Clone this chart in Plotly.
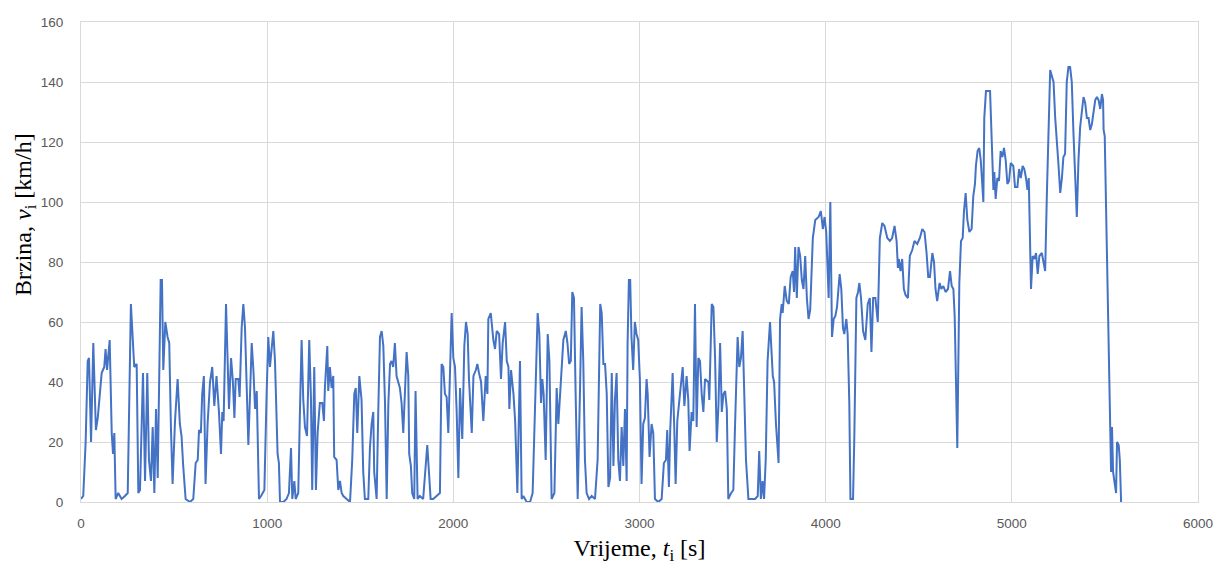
import plotly.graph_objects as go

# time [s]
t = [0, 12, 25, 36, 43, 54, 66, 80, 90, 111, 125, 132, 140, 154, 165, 172, 179, 186, 200, 218, 236, 251,
     268, 276, 286, 299, 308, 317, 333, 344, 356, 365, 376, 385, 394, 403, 412, 428, 435, 442, 453, 465,
     474, 483, 492, 505, 519, 531, 540, 549, 562, 585, 603, 616, 627, 634, 644, 651, 660, 669, 680, 693,
     705, 716, 728, 741, 752, 759, 766, 779, 788, 795, 806, 816, 824, 831, 845, 852, 863, 872, 881, 890,
     899, 908, 917, 926, 935, 944, 956, 967, 985,
     997, 1006, 1015, 1020, 1033, 1042, 1056, 1063, 1069, 1087, 1104, 1117, 1128, 1135, 1146, 1153, 1167,
     1176, 1185, 1194, 1203, 1214, 1226, 1235, 1242, 1253, 1262, 1271, 1283, 1296, 1305, 1310, 1323, 1328,
     1337, 1346, 1355, 1360, 1373, 1382, 1391, 1400, 1409, 1427, 1445, 1457, 1468, 1476, 1484, 1495, 1507,
     1516, 1525, 1543, 1552, 1561, 1570, 1575, 1588, 1597, 1606, 1615, 1624, 1633, 1642, 1651, 1660, 1668,
     1677, 1686, 1695, 1713, 1722, 1731, 1740, 1749, 1758, 1763, 1772, 1779, 1790, 1797, 1808, 1820, 1838,
     1851, 1860, 1869, 1878, 1892, 1910, 1928, 1937, 1946, 1955, 1964, 1973, 1982, 1991, 2000,
     2009, 2018, 2027, 2036, 2048, 2059, 2068, 2077, 2084, 2099, 2108, 2121, 2129, 2138, 2149, 2161, 2174,
     2183, 2188, 2201, 2215, 2224, 2233, 2246, 2256, 2265, 2278, 2287, 2296, 2301, 2310, 2323, 2332, 2344,
     2358, 2367, 2376, 2394, 2412, 2426, 2439, 2453, 2462, 2471, 2478, 2485, 2496, 2507, 2516, 2528, 2543,
     2555, 2564, 2573, 2582, 2591, 2604, 2613, 2622, 2631, 2639, 2648, 2657, 2668, 2680, 2689, 2698, 2707,
     2716, 2729, 2743, 2761, 2775, 2782, 2789, 2797, 2806, 2815, 2824, 2833, 2842, 2851, 2860, 2868, 2877,
     2886, 2895, 2904, 2913, 2922, 2931, 2936, 2943, 2950, 2957, 2966, 2975, 2984, 2993, 3002, 3011, 3020,
     3029, 3038, 3044, 3054, 3065, 3074, 3083,
     3101, 3119, 3131, 3142, 3149, 3158, 3165, 3178, 3187, 3194, 3203, 3214, 3223, 3232, 3241, 3253, 3262,
     3269, 3280, 3289, 3298, 3307, 3316, 3325, 3334, 3343, 3352, 3370, 3375, 3388, 3397, 3406, 3415, 3424,
     3433, 3442, 3451, 3460, 3469, 3477, 3492, 3504, 3513, 3522, 3527, 3536, 3545, 3554, 3563, 3572, 3585,
     3603, 3621, 3635, 3643, 3652, 3661, 3669, 3678, 3688, 3701,
     3716, 3723, 3733, 3740, 3747, 3755, 3764, 3769, 3780, 3791, 3802, 3812, 3823, 3830, 3836, 3845, 3854,
     3863, 3872, 3881, 3890, 3899, 3908, 3917, 3931, 3944, 3962, 3974, 3985, 3994, 4003, 4016, 4025, 4034,
     4043, 4052, 4061, 4075, 4084, 4093, 4100, 4111, 4118, 4127, 4133, 4147, 4154, 4165, 4174, 4181, 4190,
     4201, 4213, 4226, 4237, 4246, 4255, 4267, 4280, 4291, 4304, 4316, 4331, 4345, 4357, 4370, 4381, 4388,
     4393, 4402, 4411, 4420, 4429, 4442, 4452, 4465, 4477, 4492, 4506, 4519, 4531, 4542, 4551, 4560, 4573,
     4582, 4590, 4599, 4612, 4621, 4632, 4644, 4657, 4668, 4677, 4686, 4693, 4707, 4718, 4727, 4736, 4743,
     4752, 4761, 4772, 4784, 4793, 4802, 4807, 4816, 4825, 4833, 4840, 4847, 4852, 4861, 4883, 4892, 4901,
     4906, 4913, 4922, 4931, 4940, 4949, 4958, 4967, 4976, 4985, 4994, 5008, 5017, 5030, 5039, 5048, 5058,
     5067, 5076, 5084, 5091, 5098, 5103, 5112, 5121, 5130, 5139, 5148, 5161, 5170, 5179, 5188, 5197, 5206,
     5215, 5224, 5233, 5242, 5251, 5260, 5269, 5277, 5286, 5295, 5304, 5313, 5322, 5331, 5340, 5349, 5358,
     5367, 5376, 5385, 5394, 5403, 5412, 5421, 5430, 5439, 5448, 5457, 5466, 5475, 5484, 5490, 5493, 5499,
     5511, 5526, 5533, 5538, 5544, 5553, 5560, 5565, 5574, 5580, 5587]

# speed [km/h]
v = [1, 2, 20, 47, 48, 20, 53, 24, 28, 43, 45, 51, 44, 54, 23, 16, 23, 1, 3, 1, 2, 3,
     66, 58, 45, 46, 3, 4, 43, 7, 43, 14, 7, 25, 3, 31, 8, 74, 74, 44, 60, 55,
     53, 25, 6, 27, 41, 26, 22, 12, 1, 0, 1, 13, 14, 24, 23, 36, 42, 6, 26, 40,
     45, 32, 42, 30, 16, 30, 27, 66, 48, 31, 48, 40, 28, 41, 41, 35, 58, 66, 58, 36,
     19, 36, 53, 44, 31, 37, 1, 2, 4,
     36, 55, 45, 48, 57, 47, 16, 13, 0, 0, 1, 3, 18, 1, 7, 1, 3,
     30, 54, 34, 25, 22, 54, 35, 4, 45, 4, 23, 33, 33, 27, 38, 52, 37,
     45, 38, 42, 15, 14, 4, 7, 3, 2, 1, 0, 14, 36, 38, 23, 42, 34,
     10, 1, 1, 18, 26, 30, 10, 1, 31, 55, 57, 52, 33, 1, 33, 46, 47,
     45, 53, 42, 38, 33, 23, 36, 50, 42, 16, 12, 3, 1, 37, 1, 2, 1,
     10, 19, 10, 1, 1, 2, 3, 46, 45, 36, 35, 23, 47, 63, 48,
     45, 30, 8, 38, 21, 52, 60, 56, 41, 23, 42, 44, 46, 43, 40, 27, 42,
     36, 61, 63, 54, 51, 57, 56, 41, 53, 60, 47, 45, 31, 44, 36, 27, 3,
     47, 1, 2, 0, 0, 3, 34, 63, 56, 33, 41, 36, 14, 56, 47, 1, 3,
     38, 26, 36, 47, 54, 57, 53, 46, 47, 70, 68, 36, 1, 36, 65, 47, 14,
     3, 1, 2, 1, 14, 47, 66, 63, 46, 46, 36, 5, 8, 43, 12, 34, 43,
     14, 7, 25, 12, 31, 7, 53, 74, 74, 55, 44, 60, 56, 54, 41, 6, 26,
     28, 41, 36, 15, 26, 23, 1,
     0, 1, 13, 14, 24, 5, 24, 43, 24, 6, 27, 34, 40, 45, 32, 42, 34,
     17, 30, 27, 66, 25, 48, 47, 36, 30, 41, 40, 34, 66, 65, 48, 20, 32,
     53, 30, 36, 37, 31, 1, 3, 4, 25, 42, 55, 45, 48, 57, 36, 14, 1,
     1, 1, 2, 17, 1, 7, 1, 14, 47, 60,
     42, 40, 26, 17, 13, 61, 66, 63, 72, 67, 66, 75, 77, 70, 85, 68, 85,
     82, 74, 71, 82, 68, 61, 64, 88, 94, 95, 97, 91, 95, 90, 68, 100, 55,
     61, 62, 65, 76, 71, 58, 56, 61, 56, 33, 1, 1, 22, 68, 70, 73, 68,
     57, 54, 66, 68, 50, 68, 68, 60, 88, 93, 92, 88, 87, 88, 92, 87, 78,
     81, 77, 81, 71, 69, 68, 82, 84, 87, 86, 88, 91, 90, 83, 75, 75, 83,
     80, 71, 67, 73, 71, 72, 70, 71, 77, 72, 71, 62, 18, 73, 87, 88, 97,
     103, 94, 90, 91, 102, 106, 112, 117, 118, 114, 106, 100, 128, 137, 137, 117, 104,
     110, 101, 108, 107, 117, 115, 118, 114, 106, 107, 113, 112, 105, 105, 111, 108, 112,
     111, 108, 104, 108, 82, 71, 82, 81, 83, 76, 82, 83, 80, 77, 102, 128, 144,
     142, 140, 128, 121, 112, 103, 108, 115, 116, 140, 145, 145, 140, 123, 106, 95, 114,
     125, 130, 135, 133, 128, 128, 124, 126, 131, 134, 135, 134, 131, 136, 134, 124, 122,
     84, 40, 10, 25, 10, 6, 3, 20, 19, 14, 0]

x_ticks = [0, 1000, 2000, 3000, 4000, 5000, 6000]
y_ticks = [0, 20, 40, 60, 80, 100, 120, 140, 160]
x_title = "Vrijeme, <i>t</i><sub>i</sub> [s]"
y_title = "Brzina, <i>v</i><sub>i</sub> [km/h]"

fig = go.Figure()
fig.add_trace(go.Scatter(x=t, y=v, mode="lines",
                         line=dict(color="#4472C4", width=2), showlegend=False))

grid = "#d9d9d9"
tickfont = dict(family="Liberation Sans, Arial, sans-serif", size=13.5, color="#595959")
titlefont = dict(family="Liberation Serif, Times New Roman, serif", size=24, color="#000000")

fig.update_layout(
    width=1215, height=565,
    margin=dict(l=81, r=17, t=22, b=63, autoexpand=False),
    paper_bgcolor="white", plot_bgcolor="white",
    xaxis=dict(range=[0, 6000], tickvals=x_ticks, ticktext=[str(x) for x in x_ticks],
               showgrid=True, gridcolor=grid, gridwidth=1, zeroline=False,
               showline=True, linecolor=grid, linewidth=1, mirror=True,
               tickfont=tickfont, ticklabelstandoff=9,
               title=dict(text=x_title, font=titlefont, standoff=10)),
    yaxis=dict(range=[0, 160], tickvals=y_ticks, ticktext=[str(y) for y in y_ticks],
               showgrid=True, gridcolor=grid, gridwidth=1, zeroline=False,
               showline=True, linecolor=grid, linewidth=1, mirror=True,
               tickfont=tickfont, ticklabelstandoff=14),
    annotations=[dict(text=y_title, xref="paper", yref="paper",
                      x=(25 - 81) / 1117, y=(502 - 215) / 480,
                      xanchor="center", yanchor="middle", textangle=-90,
                      showarrow=False, font=titlefont)],
)

fig.write_html("out.html", config={"displayModeBar": False},
               post_script="document.body.style.margin='0';document.body.style.overflow='hidden';")
